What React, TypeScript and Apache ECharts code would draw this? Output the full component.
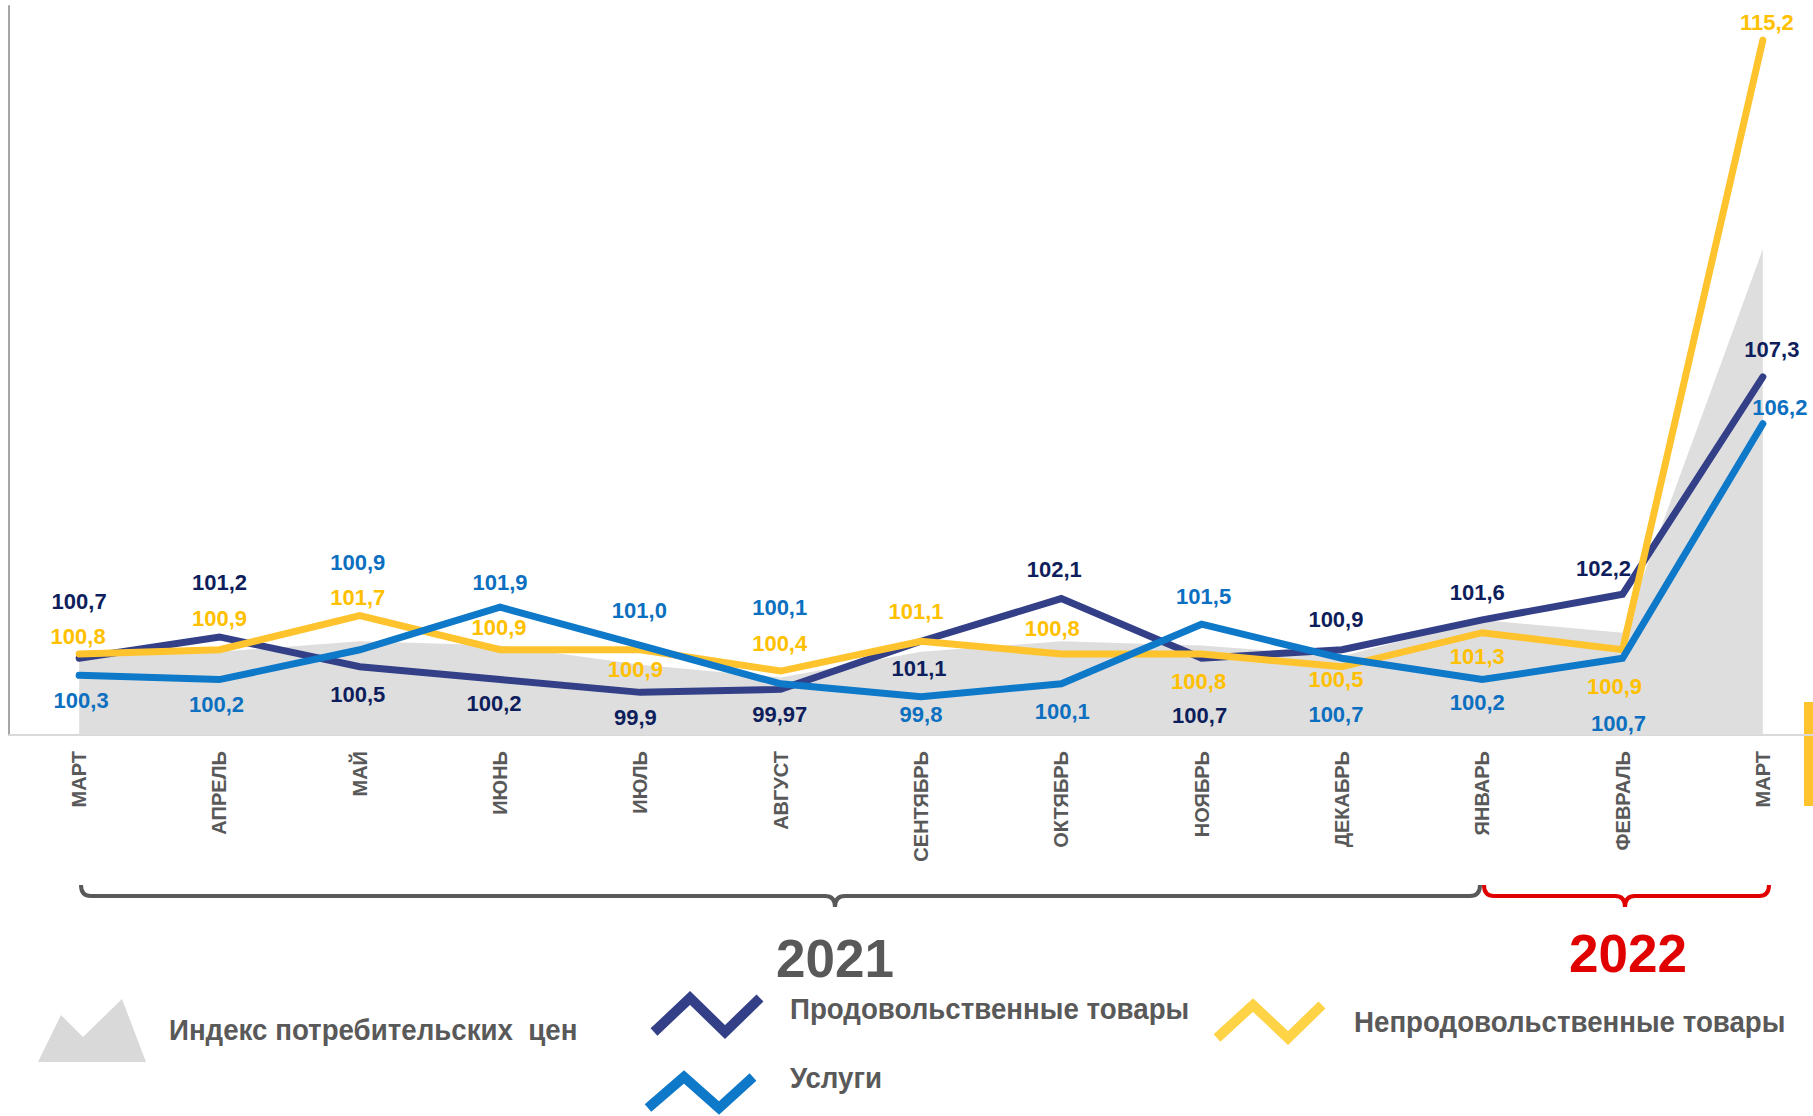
import React, { useEffect, useRef } from "react";
import * as echarts from "echarts";

// ---------- data ----------
const months = ["МАРТ", "АПРЕЛЬ", "МАЙ", "ИЮНЬ", "ИЮЛЬ", "АВГУСТ", "СЕНТЯБРЬ", "ОКТЯБРЬ", "НОЯБРЬ", "ДЕКАБРЬ", "ЯНВАРЬ", "ФЕВРАЛЬ", "МАРТ"];
const cpi = [100.8, 100.85, 101.1, 101.0, 100.55, 100.25, 100.85, 101.1, 101.0, 100.75, 101.6, 101.3, 110.3];
const food = [100.7, 101.2, 100.5, 100.2, 99.9, 99.97, 101.1, 102.1, 100.7, 100.9, 101.6, 102.2, 107.3];
const nonFood = [100.8, 100.9, 101.7, 100.9, 100.9, 100.4, 101.1, 100.8, 100.8, 100.5, 101.3, 100.9, 115.2];
const services = [100.3, 100.2, 100.9, 101.9, 101.0, 100.1, 99.8, 100.1, 101.5, 100.7, 100.2, 100.7, 106.2];

const seriesNames = ["Индекс потребительских  цен", "Продовольственные товары", "Непродовольственные товары", "Услуги"];
const years = ["2021", "2022"];

// ---------- label placement (styling) ----------
const foodLabelOffsets = [[0, -57], [0, -54], [-2, 28], [-6, 24], [-5, 25], [-1, 25], [-2, 27], [-7, -29], [-2, 57], [-6, -30], [-5, -27], [-19, -26], [9, -27]];
const nonFoodLabelOffsets = [[-1, -18], [0, -31], [-2, -18], [-1, -22], [-5, 20], [-1, -28], [-5, -30], [-9, -26], [-3, 27], [-6, 13], [-5, 24], [-8, 37], [4, -18]];
const servicesLabelOffsets = [[2, 25], [-3, 25], [-2, -87], [0, -25], [-1, -35], [-1, -76], [0, 18], [1, 28], [2, -28], [-6, 56], [-5, 23], [-4, 65], [17, -16]];

const FONT = "'Liberation Sans', Arial, Helvetica, sans-serif";
const GRAY_TEXT = "#595959";
const NAVY = "#333f87";
const NAVY_LABEL = "#0e1e5c";
const YELLOW = "#ffc32e";
const YELLOW_LABEL = "#ffc000";
const BLUE = "#0e78c9";
const BLUE_LABEL = "#0c6fc0";
const AREA = "#dedede";
const RED = "#e00000";

const fmt = (v: number) => {
  const isOneDec = Math.abs(Math.round(v * 10) - v * 10) < 1e-6;
  return (isOneDec ? v.toFixed(1) : v.toFixed(2)).replace(".", ",");
};

let braceRegistered = false;
function registerBrace() {
  if (braceRegistered) return;
  const Brace = (echarts.graphic as any).extendShape({
    shape: { x1: 0, x2: 0, xc: 0, yTop: 0, yMid: 0, yTip: 0, r: 10 },
    buildPath(ctx: any, s: any) {
      ctx.moveTo(s.x1, s.yTop);
      ctx.quadraticCurveTo(s.x1, s.yMid, s.x1 + s.r, s.yMid);
      ctx.lineTo(s.xc - s.r, s.yMid);
      ctx.quadraticCurveTo(s.xc, s.yMid, s.xc, s.yTip);
      ctx.quadraticCurveTo(s.xc, s.yMid, s.xc + s.r, s.yMid);
      ctx.lineTo(s.x2 - s.r, s.yMid);
      ctx.quadraticCurveTo(s.x2, s.yMid, s.x2, s.yTop);
    },
  });
  (echarts.graphic as any).registerShape("brace", Brace);
  braceRegistered = true;
}

function lineSeries(name: string, values: number[], offsets: number[][], color: string, labelColor: string, z: number) {
  return {
    name,
    type: "line",
    z,
    data: values.map((v, i) => ({ value: v, label: { offset: offsets[i] } })),
    symbol: "circle",
    symbolSize: 1,
    showSymbol: true,
    itemStyle: { color },
    lineStyle: { color, width: 7, cap: "round", join: "miter" },
    label: {
      show: true,
      position: "inside",
      align: "center",
      verticalAlign: "middle",
      formatter: (p: any) => fmt(p.value),
      color: labelColor,
      fontSize: 22,
      fontWeight: "bold",
      fontFamily: FONT,
    },
    emphasis: { disabled: true },
  };
}

export default function App() {
  const ref = useRef<HTMLDivElement>(null);

  useEffect(() => {
    if (!ref.current) return;
    registerBrace();
    const chart = echarts.init(ref.current, undefined, { renderer: "svg" });

    const legendText = (text: string, x: number, y: number) => ({
      type: "text",
      x,
      y,
      scaleX: 0.955,
      style: { text, fill: GRAY_TEXT, font: `bold 29px ${FONT}`, textVerticalAlign: "middle", textAlign: "left" },
    });

    chart.setOption({
      animation: false,
      backgroundColor: "#ffffff",
      grid: { left: 9, top: 6, width: 1824, height: 729, containLabel: false, outerBoundsMode: "none" },
      xAxis: {
        type: "category",
        data: months,
        boundaryGap: true,
        axisLine: { show: true, lineStyle: { color: "#d9d9d9", width: 2 } },
        axisTick: { show: false },
        splitLine: { show: false },
        axisLabel: {
          interval: 0,
          rotate: 90,
          margin: 16,
          color: GRAY_TEXT,
          fontSize: 20,
          fontWeight: "bold",
          fontFamily: FONT,
        },
      },
      yAxis: {
        type: "value",
        min: 98.9,
        max: 116,
        axisLine: { show: true, lineStyle: { color: "#a6a6a6", width: 2 } },
        axisTick: { show: false },
        axisLabel: { show: false },
        splitLine: { show: false },
      },
      series: [
        {
          name: seriesNames[0],
          type: "line",
          z: 1,
          data: cpi,
          symbol: "none",
          lineStyle: { width: 0, opacity: 0 },
          areaStyle: { color: AREA, opacity: 1, origin: "start" },
          silent: true,
          label: { show: false },
        },
        lineSeries(seriesNames[1], food, foodLabelOffsets, NAVY, NAVY_LABEL, 2),
        lineSeries(seriesNames[2], nonFood, nonFoodLabelOffsets, YELLOW, YELLOW_LABEL, 3),
        lineSeries(seriesNames[3], services, servicesLabelOffsets, BLUE, BLUE_LABEL, 4),
      ],
      graphic: [
        // right-edge accent bar
        { type: "rect", shape: { x: 1804, y: 702, width: 9, height: 104 }, style: { fill: YELLOW } },
        // year braces
        {
          type: "brace",
          shape: { x1: 81, x2: 1480, xc: 835, yTop: 885, yMid: 896, yTip: 907, r: 10 },
          style: { stroke: GRAY_TEXT, lineWidth: 4, fill: null },
        },
        {
          type: "brace",
          shape: { x1: 1484, x2: 1769, xc: 1625, yTop: 885, yMid: 896, yTip: 907, r: 10 },
          style: { stroke: RED, lineWidth: 4, fill: null },
        },
        {
          type: "text",
          x: 835,
          y: 958,
          style: { text: years[0], fill: GRAY_TEXT, font: `bold 53px ${FONT}`, textAlign: "center", textVerticalAlign: "middle" },
        },
        {
          type: "text",
          x: 1628,
          y: 953,
          style: { text: years[1], fill: RED, font: `bold 53px ${FONT}`, textAlign: "center", textVerticalAlign: "middle" },
        },
        // legend: CPI mountain
        {
          type: "polygon",
          shape: { points: [[38, 1062], [61, 1015], [83, 1037], [122, 999], [146, 1062]] },
          style: { fill: "#d9d9d9" },
        },
        legendText(seriesNames[0], 169, 1030),
        // legend: food zigzag
        {
          type: "polyline",
          shape: { points: [[654, 1032], [690, 998], [725, 1032], [760, 998]] },
          style: { stroke: NAVY, lineWidth: 10, fill: null, lineJoin: "miter", lineCap: "butt" },
        },
        legendText(seriesNames[1], 790, 1009),
        // legend: services zigzag
        {
          type: "polyline",
          shape: { points: [[648, 1108], [684, 1077], [719, 1108], [753, 1077]] },
          style: { stroke: BLUE, lineWidth: 10, fill: null, lineJoin: "miter", lineCap: "butt" },
        },
        legendText(seriesNames[3], 790, 1078),
        // legend: non-food zigzag
        {
          type: "polyline",
          shape: { points: [[1217, 1038], [1253, 1005], [1288, 1038], [1322, 1005]] },
          style: { stroke: "#ffd346", lineWidth: 10, fill: null, lineJoin: "miter", lineCap: "butt" },
        },
        legendText(seriesNames[2], 1354, 1022),
      ],
    });

    return () => chart.dispose();
  }, []);

  return (
    <div
      ref={ref}
      style={{ position: "fixed", left: 0, top: 0, width: 1813, height: 1116, background: "#fff" }}
    />
  );
}
